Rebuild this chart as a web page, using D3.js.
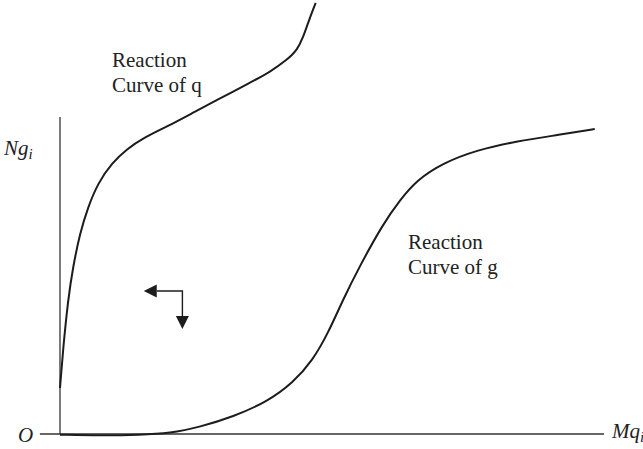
<!DOCTYPE html>
<html lang="en">
<head>
  <meta charset="utf-8">
  <title>Reaction curves</title>
  <script src="https://d3js.org/d3.v7.min.js"></script>
  <style>
    body { margin: 0; background: #fff; }
  </style>
</head>
<body>
<svg id="chart" width="643" height="449"></svg>
<script>
  // reaction curve of q (x = Mq, y = Ng), arbitrary units
  const curveQx = [0, 0.55, 1.47, 2.39, 3.68, 5.15, 6.99, 9.56, 12.3, 15.3, 19.7, 24.4, 28.9, 34.9, 38.6, 41.7, 43.6, 44.7, 45.6, 46.7, 47.0];
  const curveQy = [14.5, 26.5, 42.3, 52.7, 63.4, 71.6, 79.2, 85.5, 89.9, 93.4, 97.0, 101.3, 105.4, 110.8, 114.2, 118.0, 121.1, 125.2, 129.7, 134.7, 136.0];

  // reaction curve of g
  const curveGx = [0, 7.4, 14.7, 20.2, 25.7, 31.8, 38.1, 42.8, 46.5, 49.3, 52.0, 55.1, 59.4, 62.5, 65.6, 70.4, 76.7, 84.0, 91.9, 98.3];
  const curveGy = [-0.2, -0.5, -0.3, 0.2, 2.2, 5.4, 10.2, 16.1, 23.3, 31.9, 42.3, 53.0, 66.3, 73.8, 80.1, 85.5, 89.6, 92.4, 94.4, 96.2];

  // direction arrows (corner, left tip, bottom tip)
  const arrowCorner = [22.5, 45.1];
  const arrowLeftX = 15.4;
  const arrowDownY = 33.1;

  const labelQ = ["Reaction", "Curve of q"];
  const labelG = ["Reaction", "Curve of g"];

  const serif = "'Liberation Serif', 'Times New Roman', 'DejaVu Serif', serif";

  const svg = d3.select("#chart");
  const x = d3.scaleLinear().domain([0, 100]).range([60, 604]);
  const y = d3.scaleLinear().domain([0, 100]).range([434, 117]);

  const ink = "#1c1c1c";

  // axes
  svg.append("line")
    .attr("x1", x(-3.7)).attr("x2", x(100))
    .attr("y1", y(0)).attr("y2", y(0))
    .attr("stroke", "#333").attr("stroke-width", 1.3);
  svg.append("line")
    .attr("x1", x(0)).attr("x2", x(0))
    .attr("y1", y(0)).attr("y2", y(100))
    .attr("stroke", "#333").attr("stroke-width", 1.3);

  const line = d3.line()
    .x(d => x(d[0]))
    .y(d => y(d[1]))
    .curve(d3.curveBasis);

  svg.append("path")
    .datum(d3.zip(curveQx, curveQy))
    .attr("fill", "none").attr("stroke", ink).attr("stroke-width", 2)
    .attr("d", line);

  svg.append("path")
    .datum(d3.zip(curveGx, curveGy))
    .attr("fill", "none").attr("stroke", ink).attr("stroke-width", 2)
    .attr("d", line);

  // arrows
  const cx = x(arrowCorner[0]), cy = y(arrowCorner[1]);
  const lx = x(arrowLeftX), dy = y(arrowDownY);
  const head = 13, half = 6.5;
  svg.append("path")
    .attr("d", `M${lx + head},${cy}H${cx}V${dy - head}`)
    .attr("fill", "none").attr("stroke", ink).attr("stroke-width", 1.4);
  svg.append("path")
    .attr("d", `M${lx},${cy}L${lx + head},${cy - half}L${lx + head},${cy + half}Z`)
    .attr("fill", ink);
  svg.append("path")
    .attr("d", `M${cx},${dy}L${cx - half},${dy - head}L${cx + half},${dy - head}Z`)
    .attr("fill", ink);

  // curve labels
  function block(lines, x0, y0) {
    svg.append("text")
      .attr("font-family", serif)
      .attr("font-size", 21)
      .attr("fill", "#222")
      .selectAll("tspan")
      .data(lines)
      .join("tspan")
      .attr("x", x0)
      .attr("y", (d, i) => y0 + i * 25)
      .text(d => d);
  }
  block(labelQ, 112, 67);
  block(labelG, 408, 249);

  // axis labels
  svg.append("text").attr("x", 18).attr("y", 442)
    .attr("font-family", serif).attr("fill", "#222")
    .attr("font-size", 21).attr("font-style", "italic").text("O");

  const ng = svg.append("text").attr("x", 4).attr("y", 155)
    .attr("font-family", serif).attr("fill", "#222")
    .attr("font-size", 21).attr("font-style", "italic");
  ng.append("tspan").text("Ng");
  ng.append("tspan").attr("font-size", 15).attr("dy", 4).text("i");

  const mq = svg.append("text").attr("x", 612).attr("y", 438)
    .attr("font-family", serif).attr("fill", "#222")
    .attr("font-size", 21).attr("font-style", "italic");
  mq.append("tspan").text("Mq");
  mq.append("tspan").attr("font-size", 15).attr("dy", 4).text("i");
</script>
</body>
</html>
